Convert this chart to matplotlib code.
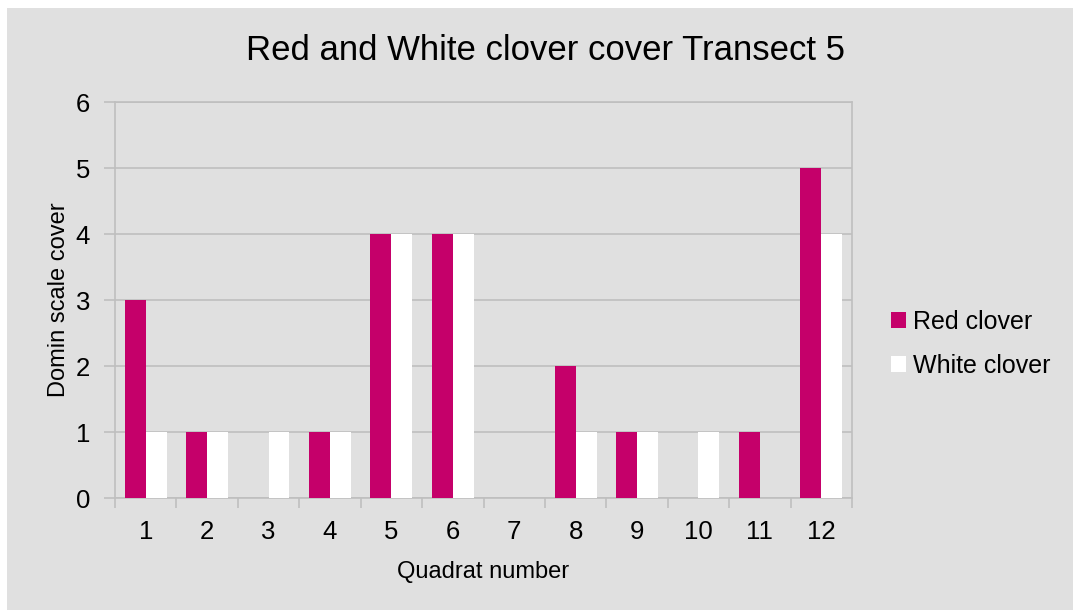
import numpy as np
import matplotlib.pyplot as plt
from matplotlib.patches import Rectangle

quadrats = ["1", "2", "3", "4", "5", "6", "7", "8", "9", "10", "11", "12"]
red_clover = [3, 1, 0, 1, 4, 4, 0, 2, 1, 0, 1, 5]
white_clover = [1, 1, 1, 1, 4, 4, 0, 1, 1, 1, 0, 4]

plt.rcParams['font.family'] = ['Liberation Sans', 'DejaVu Sans']

bg = "#e0e0e0"
grid = "#bfbfbf"
red = "#c5006a"

fig = plt.figure(figsize=(10.73, 6.10), dpi=100)
fig.patch.set_facecolor("white")
fig.patches.append(Rectangle((7 / 1073, 0), 1, 1 - 8 / 610, transform=fig.transFigure,
                             facecolor=bg, edgecolor="none", zorder=-10))

ax = fig.add_axes([115 / 1073, 1 - 498 / 610, (852 - 115) / 1073, (498 - 102) / 610])
ax.set_facecolor(bg)

x = np.arange(1, len(quadrats) + 1)
w = 0.34
ax.bar(x - w / 2, red_clover, w, color=red, label="Red clover", zorder=3)
ax.bar(x + w / 2, white_clover, w, color="white", label="White clover", zorder=3)

ax.set_xlim(0.5, len(quadrats) + 0.5)
ax.set_ylim(0, 6)
ax.set_yticks(range(0, 7))
ax.set_xticks(x)
ax.set_xticklabels(quadrats)
ax.set_xticks(np.arange(0.5, len(quadrats) + 1, 1), minor=True)
ax.tick_params(axis="x", which="major", length=0, labelsize=18.5, pad=16)
ax.tick_params(axis="x", which="minor", length=7, color=grid, width=1.2)
ax.tick_params(axis="y", length=8, color=grid, width=1.2, labelsize=18.5, pad=10)
ax.yaxis.grid(True, color=grid, linewidth=1.2, zorder=0)
for s in ax.spines.values():
    s.set_color(grid)
    s.set_linewidth(1.2)

fig.text(545 / 1073, 1 - 50 / 610, "Red and White clover cover Transect 5",
         fontsize=25, ha="center", va="center")
ax.set_xlabel("Quadrat number", fontsize=17, labelpad=12)
ax.set_ylabel("Domin scale cover", fontsize=17, labelpad=4)

ax.legend(loc="center left", bbox_to_anchor=(1.022, 0.39), frameon=False, fontsize=18,
          handlelength=0.6, handleheight=0.6, handletextpad=0.3, labelspacing=0.8)

fig.savefig("out.png", dpi=100, facecolor=fig.get_facecolor())
